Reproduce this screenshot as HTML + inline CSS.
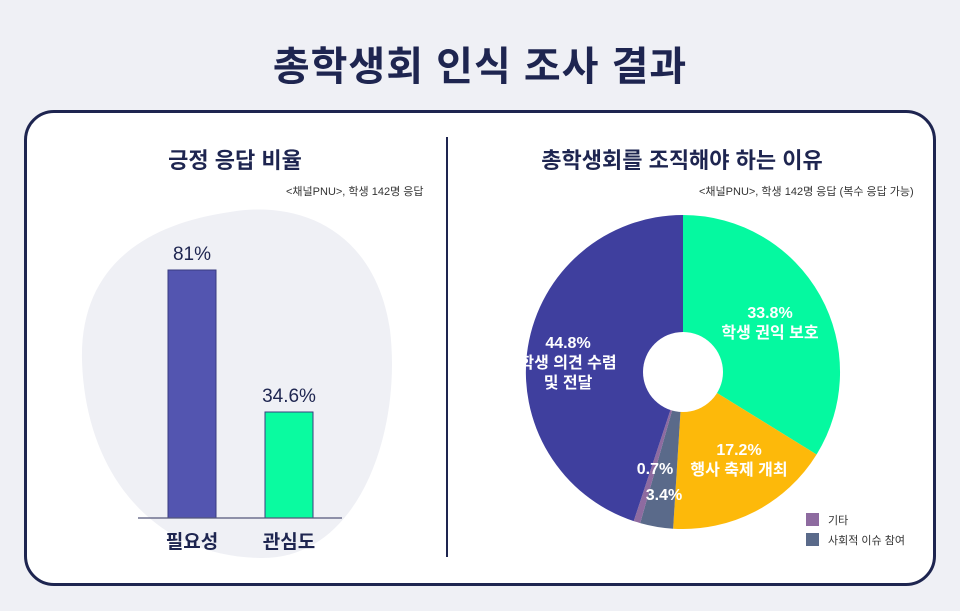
<!DOCTYPE html>
<html><head><meta charset="utf-8"><style>
body{margin:0;width:960px;height:611px;background:#eff0f5;position:relative;overflow:hidden;font-family:"Liberation Sans","Noto Sans CJK KR",sans-serif;color:#1e2550}
.a{position:absolute;white-space:nowrap}
</style></head><body>
<div class="a" style="left:0;width:960px;top:34px;text-align:center;font-size:40px;font-weight:bold;letter-spacing:1px">총학생회 인식 조사 결과</div>
<div class="a" style="left:24px;top:110px;width:906px;height:470px;background:#fff;border:3px solid #1e2550;border-radius:30px"></div>
<div class="a" style="left:446px;top:137px;width:2px;height:420px;background:#1e2550"></div>
<div class="a" style="left:30px;width:410px;top:143px;text-align:center;font-size:22px;font-weight:bold">긍정 응답 비율</div>
<div class="a" style="left:286px;top:183px;font-size:11px;color:#333">&lt;채널PNU&gt;, 학생 142명 응답</div>
<div class="a" style="left:532px;width:300px;top:143px;text-align:center;font-size:22px;font-weight:bold">총학생회를 조직해야 하는 이유</div>
<div class="a" style="left:699px;top:183px;font-size:11px;color:#333">&lt;채널PNU&gt;, 학생 142명 응답 (복수 응답 가능)</div>
<svg class="a" style="left:0;top:0" width="960" height="611">
<path d="M230 212 C300 200 375 230 390 330 C402 430 360 560 260 558 C150 556 85 470 82 360 C80 270 140 225 230 212Z" fill="#eff0f5"/>
<rect x="168" y="270" width="48" height="248" fill="#5355b0" stroke="#3a3c80"/>
<rect x="265" y="412" width="48" height="106" fill="#0afba0" stroke="#3a3c80"/>
<line x1="138" y1="518" x2="342" y2="518" stroke="#55577a" stroke-width="1.2"/>
<text x="192" y="260" text-anchor="middle" font-size="19" fill="#1e2550" font-family="Liberation Sans">81%</text>
<text x="289" y="402" text-anchor="middle" font-size="19" fill="#1e2550" font-family="Liberation Sans">34.6%</text>
<text x="192" y="548" text-anchor="middle" font-size="19" font-weight="bold" fill="#1e2550" font-family="Liberation Sans,Noto Sans CJK KR,sans-serif">필요성</text>
<text x="289" y="548" text-anchor="middle" font-size="19" font-weight="bold" fill="#1e2550" font-family="Liberation Sans,Noto Sans CJK KR,sans-serif">관심도</text>
<path d="M683 372 L683 215 A157 157 0 0 1 816.6 454.5Z" fill="#05f9a0"/>
<path d="M683 372 L816.6 454.5 A157 157 0 0 1 673.1 528.7Z" fill="#fdb90a"/>
<path d="M683 372 L673.1 528.7 A157 157 0 0 1 640.2 523.1Z" fill="#5a6a8a"/>
<path d="M683 372 L640.2 523.1 A157 157 0 0 1 633.7 521.1Z" fill="#8e6ba0"/>
<path d="M683 372 L633.7 521.1 A157 157 0 0 1 683 215Z" fill="#3f3f9e"/>
<circle cx="683" cy="372" r="40" fill="#fff"/>
<g font-family="Liberation Sans,Noto Sans CJK KR,sans-serif" font-size="16" font-weight="bold" fill="#fff" text-anchor="middle">
<text x="770" y="318">33.8%</text><text x="770" y="338">학생 권익 보호</text>
<text x="568" y="348">44.8%</text><text x="568" y="368">학생 의견 수렴</text><text x="568" y="388">및 전달</text>
<text x="739" y="455">17.2%</text><text x="739" y="475">행사 축제 개최</text>
<text x="655" y="474">0.7%</text><text x="664" y="500">3.4%</text>
</g>
<rect x="806" y="513" width="13" height="13" fill="#8e6ba0"/>
<rect x="806" y="533" width="13" height="13" fill="#5a6a8a"/>
<g font-family="Liberation Sans,Noto Sans CJK KR,sans-serif" font-size="11" fill="#333">
<text x="828" y="524">기타</text><text x="828" y="544">사회적 이슈 참여</text></g>
</svg>
</body></html>
